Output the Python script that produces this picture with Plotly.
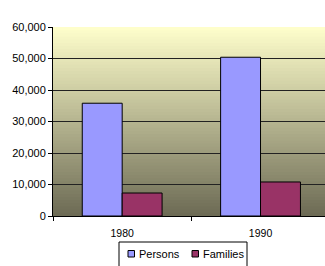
import plotly.graph_objects as go

categories = ["1980", "1990"]
series_names = ["Persons", "Families"]
persons = [35800, 50400]
families = [7300, 10800]
y_ticks = [0, 10000, 20000, 30000, 40000, 50000, 60000]
y_tick_labels = ["0", "10,000", "20,000", "30,000", "40,000", "50,000", "60,000"]
colors = ["#9999FF", "#993366"]

fig = go.Figure()
for name, vals, col in zip(series_names, [persons, families], colors):
    fig.add_trace(go.Bar(name=name, x=categories, y=vals,
                         marker=dict(color=col, line=dict(color="black", width=1))))

# plot-area geometry (pixels) used to place the legend box in paper coords
L, T, W, H = 53, 27, 272, 189
def px(x):
    return (x - L) / W
def py(y):
    return (T + H - y) / H

# gradient background (pale yellow top -> dark olive bottom), overlapping strips
top = (255, 255, 204)
bot = (108, 106, 84)
N = 60
shapes = []
for i in range(N):
    t = (i + 0.5) / N
    c = tuple(int(round(bot[k] + (top[k] - bot[k]) * t)) for k in range(3))
    shapes.append(dict(type="rect", xref="x domain", yref="y domain",
                       x0=0, x1=1, y0=i / N, y1=1,
                       fillcolor="rgb(%d,%d,%d)" % c, line=dict(width=0),
                       layer="below"))

# legend box and swatches
shapes.append(dict(type="rect", xref="paper", yref="paper",
                   x0=px(119), x1=px(247), y0=py(275), y1=py(242),
                   fillcolor="white", line=dict(color="black", width=1)))
annotations = []
for name, col, sx in zip(series_names, colors, [128, 192]):
    shapes.append(dict(type="rect", xref="paper", yref="paper",
                       x0=px(sx), x1=px(sx + 6.5), y0=py(257), y1=py(250.5),
                       fillcolor=col, line=dict(color="black", width=1)))
    annotations.append(dict(text=name, xref="paper", yref="paper",
                            x=px(sx + 8.5), y=py(253.7), xanchor="left", yanchor="middle",
                            showarrow=False, font=dict(size=11, color="black")))

fig.update_layout(
    width=325, height=266,
    margin=dict(l=L, r=0, t=T, b=266 - T - H, autoexpand=False),
    paper_bgcolor="white",
    plot_bgcolor="rgba(0,0,0,0)",
    shapes=shapes,
    annotations=annotations,
    barmode="group",
    bargap=0.423,
    bargroupgap=0,
    font=dict(family="Liberation Sans, Arial, sans-serif", size=11, color="black"),
    showlegend=False,
    xaxis=dict(range=[-0.5, 1.466], showline=True, linecolor="black", linewidth=1,
               ticks="outside", ticklen=4, tickcolor="black", tickson="boundaries",
               showgrid=False, ticklabelstandoff=7, tickfont=dict(size=10.5)),
    yaxis=dict(range=[0, 60000], tickvals=y_ticks, ticktext=y_tick_labels,
               showline=True, linecolor="black", linewidth=1,
               ticks="outside", ticklen=4, tickcolor="black",
               showgrid=True, gridcolor="#222222", gridwidth=1, zeroline=False),
)

fig.write_html("out.html", config={"displayModeBar": False},
               post_script="document.body.style.margin='0';document.body.style.overflow='hidden';")
